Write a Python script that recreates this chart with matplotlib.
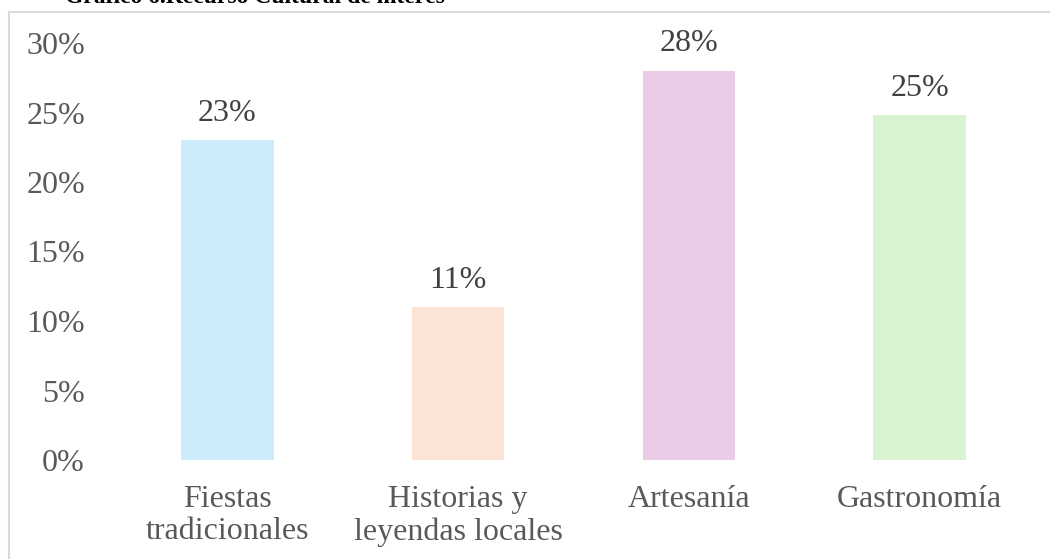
import matplotlib.pyplot as plt
from matplotlib.patches import Rectangle
from matplotlib.ticker import FuncFormatter

categories = ['Fiestas\ntradicionales', 'Historias y\nleyendas locales', 'Artesanía', 'Gastronomía']
values = [0.23, 0.11, 0.28, 0.248]
colors = ['#CCECFB', '#FBE3D6', '#EBCCE6', '#D9F2D0']
title = 'Gráfico 6.Recurso Cultural de interés'

plt.rcParams['font.family'] = ['Liberation Serif', 'DejaVu Serif']

W, H = 1050, 559
fig = plt.figure(figsize=(W / 100, H / 100), dpi=100)
ax = fig.add_axes([112 / W, 1 - 460 / H, (1035 - 112) / W, (460 - 43) / H])

x = range(len(categories))
ax.bar(x, values, width=0.40, color=colors)
for xi, v in zip(x, values):
    ax.text(xi, v + 0.009, f'{round(v * 100):.0f}%', ha='center', va='bottom',
            fontsize=23, color='#404040')

ax.set_xlim(-0.5, len(categories) - 0.5)
ax.set_ylim(0, 0.30)
ax.set_yticks([0, 0.05, 0.10, 0.15, 0.20, 0.25, 0.30])
ax.yaxis.set_major_formatter(FuncFormatter(lambda v, p: f'{v * 100:.0f}%'))
ax.set_xticks(list(x))
ax.set_xticklabels(categories, linespacing=1.14)
ax.tick_params(axis='both', length=0, labelsize=23, labelcolor='#595959')
ax.tick_params(axis='y', pad=19.5)
ax.tick_params(axis='x', pad=18)
for s in ax.spines.values():
    s.set_visible(False)

# chart frame (cropped at right and bottom)
fig.patches.append(Rectangle((9 / W, -0.1), 1.2, 1.1 - 12 / H, transform=fig.transFigure,
                             fill=False, edgecolor='#D9D9D9', linewidth=1.5, clip_on=False))
fig.text(65 / W, 1 - 3 / H, title, fontsize=17, fontweight='bold', color='black',
         ha='left', va='baseline')

fig.savefig('out.png', dpi=100)
